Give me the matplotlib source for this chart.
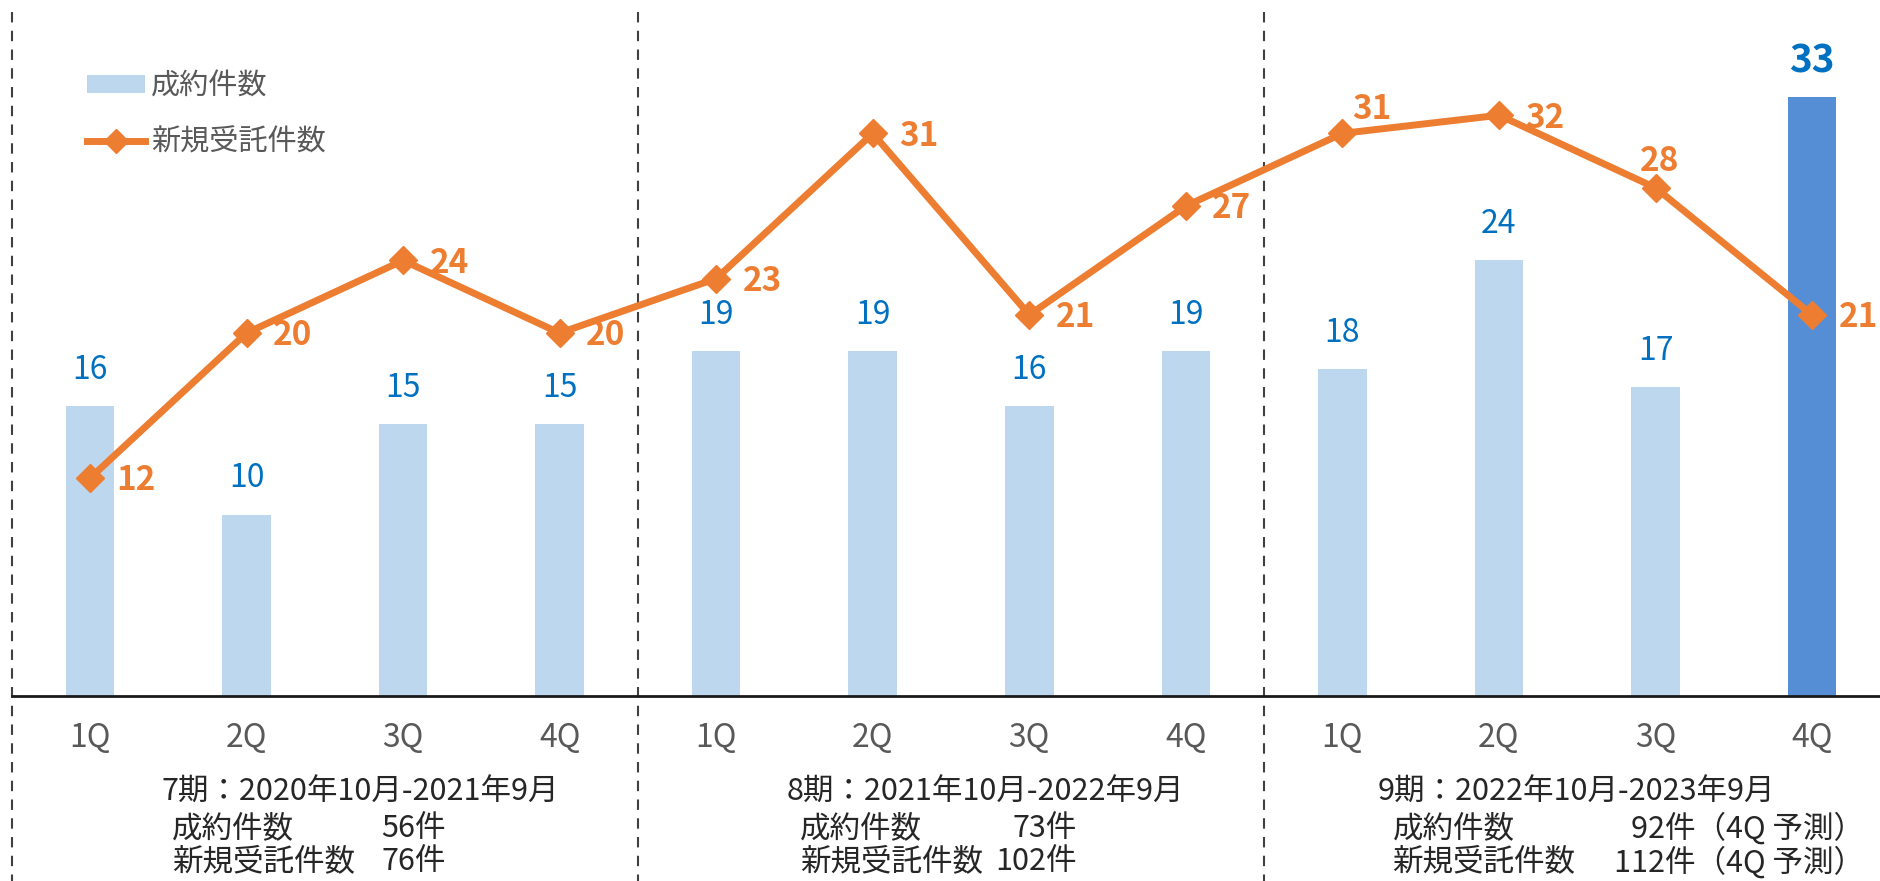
import matplotlib
matplotlib.use("Agg")
import matplotlib.pyplot as plt
from matplotlib.patches import Patch
from matplotlib.lines import Line2D
import matplotlib.transforms as mtransforms

plt.rcParams['font.family'] = ['Noto Sans CJK JP', 'DejaVu Sans']

quarters = ["1Q", "2Q", "3Q", "4Q"] * 3
contracts = [16, 10, 15, 15, 19, 19, 16, 19, 18, 24, 17, 33]
new_orders = [12, 20, 24, 20, 23, 31, 21, 27, 31, 32, 28, 21]
period_titles = ["7期：2020年10月-2021年9月",
                 "8期：2021年10月-2022年9月",
                 "9期：2022年10月-2023年9月"]
period_contracts = ["56件", "73件", "92件（4Q 予測）"]
period_orders = ["76件", "102件", "112件（4Q 予測）"]
legend_labels = ["成約件数", "新規受託件数"]

BAR_LIGHT = "#BDD7EE"
BAR_DARK = "#558ED5"
ORANGE = "#ED7D31"
BLUE_TXT = "#0070C0"
GRAY = "#595959"
DARK = "#262626"

fig = plt.figure(figsize=(18.81, 8.81), dpi=100)
ax = fig.add_axes([12 / 1881, 185 / 881, 1869 / 1881, 696 / 881])

x = list(range(len(contracts)))
colors = [BAR_LIGHT] * (len(contracts) - 1) + [BAR_DARK]
ax.bar(x, contracts, width=0.31, color=colors, zorder=2)
ax.plot(x, new_orders, color=ORANGE, lw=5, marker="D", ms=14, zorder=3)

ax.set_xlim(-0.498, 11.44)
ax.set_ylim(0, 38.35)

# bar labels
for i, v in enumerate(contracts):
    last = i == len(contracts) - 1
    ax.annotate(str(v), (i, v), xytext=(0, 26), textcoords="offset points",
                ha="center", va="center", color=BLUE_TXT,
                fontsize=28 if last else 23, fontweight="bold" if last else "normal")

# line labels
offsets = {8: (7, 17, "left"), 10: (3, 19, "center")}
for i, v in enumerate(new_orders):
    dx, dy, ha = offsets.get(i, (19, -2, "left"))
    ax.annotate(str(v), (i, v), xytext=(dx, dy), textcoords="offset points",
                ha=ha, va="center", color=ORANGE, fontsize=24, fontweight="bold")

# axes styling
for s in ["top", "right", "left"]:
    ax.spines[s].set_visible(False)
ax.spines["bottom"].set_linewidth(2)
ax.spines["bottom"].set_color("#1a1a1a")
ax.set_yticks([])
ax.set_xticks(x)
ax.set_xticklabels(quarters, fontsize=23, color=GRAY)
ax.tick_params(axis="x", length=0, pad=19)

# dashed separators
trans = mtransforms.blended_transform_factory(ax.transData, ax.transAxes)
for xs in [-0.5, 3.5, 7.5]:
    ax.plot([xs, xs], [0.983, -0.27], transform=trans, color="#404040",
            lw=1.5, ls=(0, (5, 4)), clip_on=False, zorder=1)

# period annotations
title_x = [1.725, 5.719, 9.495]
label_x = [0.524, 4.537, 8.32]
value_x = [2.275, 6.30, 11.33]
fs = 22
for k in range(3):
    ax.text(title_x[k], -0.138, period_titles[k], transform=trans,
            ha="center", va="center", fontsize=fs, color=DARK)
    ax.text(label_x[k], -0.19, legend_labels[0], transform=trans,
            ha="left", va="center", fontsize=fs, color=DARK)
    ax.text(value_x[k], -0.19, period_contracts[k], transform=trans,
            ha="right", va="center", fontsize=fs, color=DARK)
    ax.text(label_x[k], -0.2385, legend_labels[1], transform=trans,
            ha="left", va="center", fontsize=fs, color=DARK)
    ax.text(value_x[k], -0.2385, period_orders[k], transform=trans,
            ha="right", va="center", fontsize=fs, color=DARK)

handles = [Patch(facecolor=BAR_LIGHT, edgecolor="none"),
           Line2D([], [], color=ORANGE, lw=5, marker="D", ms=12)]
leg = ax.legend(handles, legend_labels, loc="upper left",
                bbox_to_anchor=(0.026, 0.935), frameon=False, fontsize=21,
                handlelength=2.0, handleheight=0.55, labelspacing=0.9,
                handletextpad=0.2)
for t in leg.get_texts():
    t.set_color(GRAY)

fig.savefig("out.png", dpi=100)
